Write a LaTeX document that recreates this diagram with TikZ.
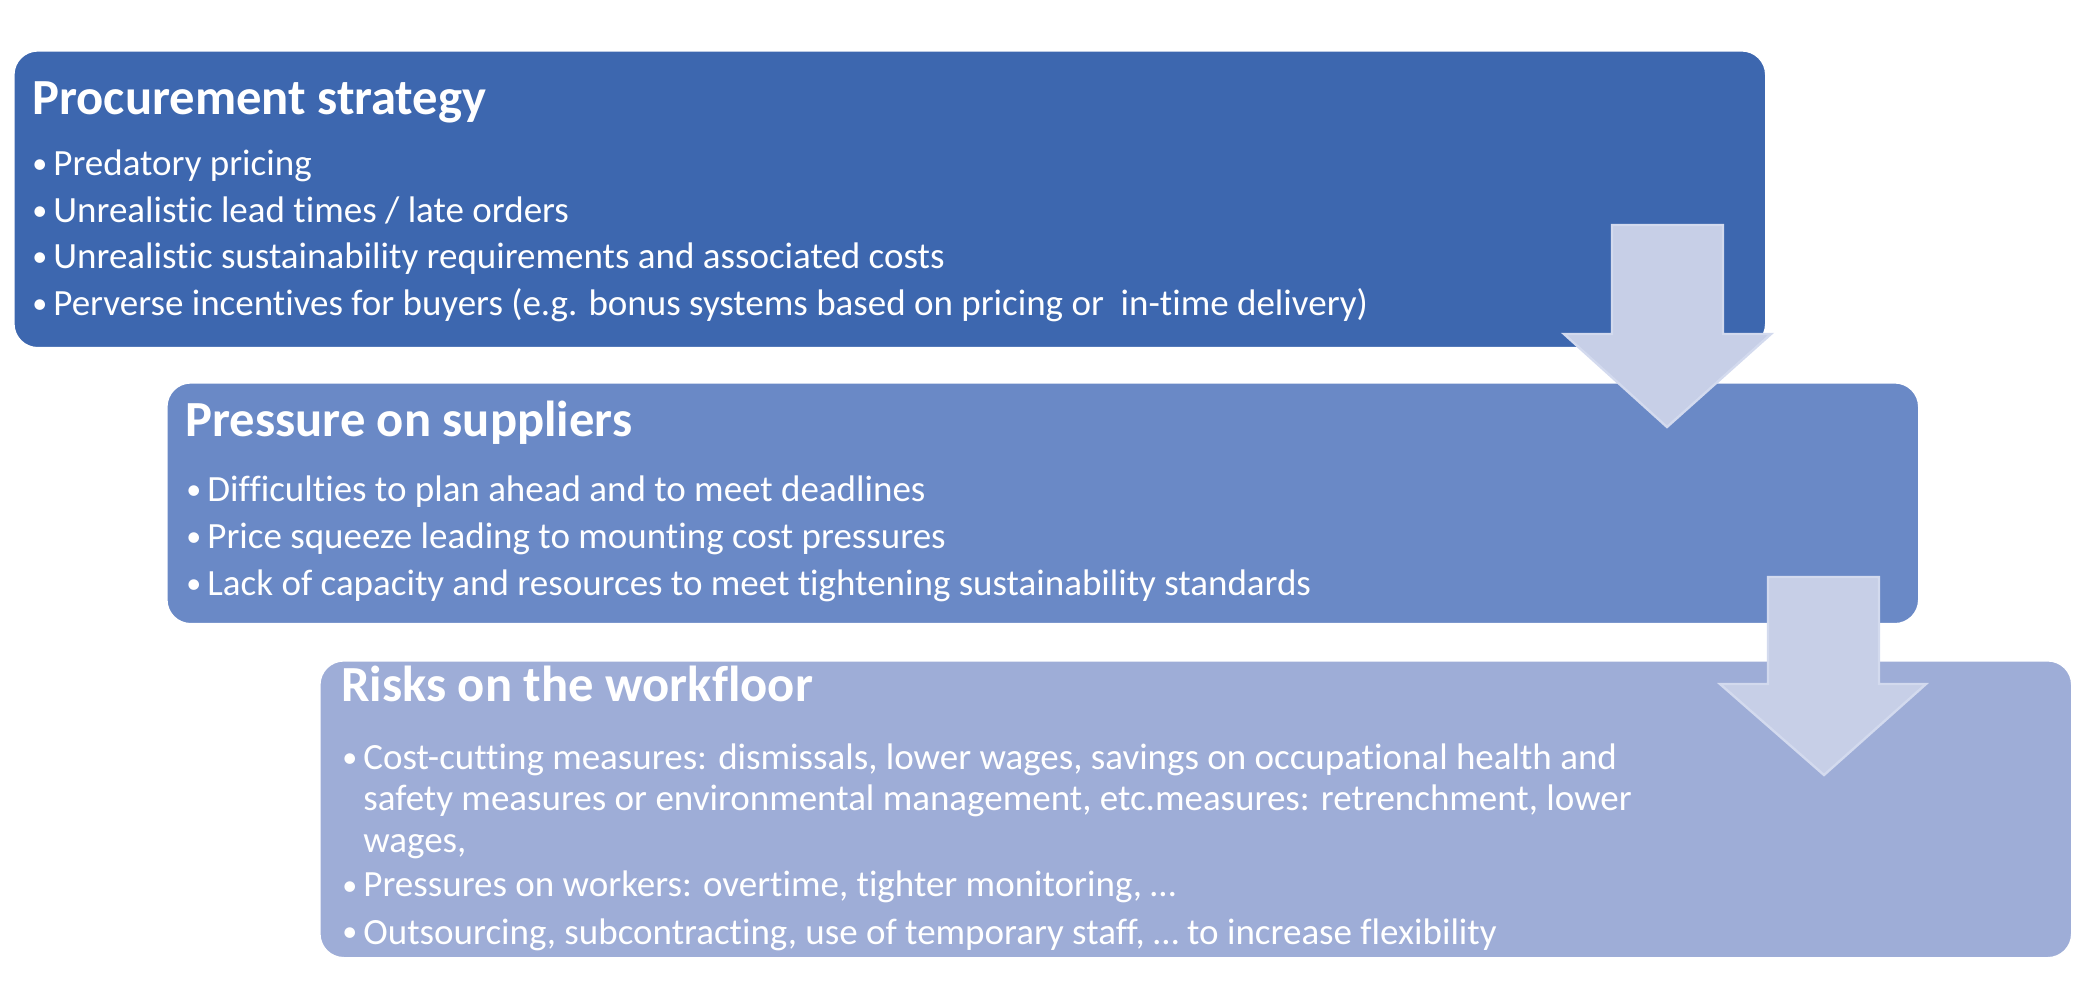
\documentclass[tikz,border=0pt]{standalone}
\usepackage{fontspec}
\setmainfont{Carlito}[Ligatures=NoCommon]
\usetikzlibrary{positioning}
\definecolor{boxone}{RGB}{61,103,175}
\definecolor{boxtwo}{RGB}{106,137,198}
\definecolor{boxthree}{RGB}{158,173,215}
\definecolor{arrowfill}{RGB}{199,207,231}
\definecolor{arrowedge}{RGB}{211,218,238}
\tikzset{
	stage/.style={rectangle, rounded corners=12pt, anchor=north west, draw=white, line width=0.8pt, inner sep=0pt, minimum width=876pt},
	head/.style={anchor=base west, inner sep=0pt, text=white, font=\fontsize{25.3}{30}\selectfont\bfseries},
	itemtext/.style={anchor=base west, inner sep=0pt, text=white, font=\fontsize{18.5}{22}\selectfont},
	itemdot/.style={anchor=base west, inner sep=0pt, text=white, font=\fontsize{15}{18}\selectfont},
	downarrow/.style={fill=arrowfill, draw=arrowedge, line width=1.2pt}
}
\begin{document}
\begin{tikzpicture}[x=0.5pt, y=-0.5pt]
	\useasboundingbox (0,0) rectangle (2078,1004);
	% the three stages
	\node[stage, fill=boxone, minimum height=148.5pt] (proc) at (13,50) {};
	\node[stage, fill=boxtwo, minimum height=120.5pt] (supp) at (166,382) {};
	\node[stage, fill=boxthree, minimum height=148.5pt] (work) at (319,660) {};
	% procurement strategy
	\node[head] (proctitle) at (32,115) {Procurement strategy};
	\foreach \txt [count=\i] in {Predatory pricing, Unrealistic lead times / late orders, Unrealistic sustainability requirements and associated costs, {Perverse incentives for buyers (e.g. bonus systems based on pricing or\ \ in-time delivery)}}{
		\node[itemdot] (procb\i) at (32,174+46.5*\i-46.5) {\textbullet};
		\node[itemtext] (proci\i) at (53,176+46.5*\i-46.5) {\txt};
	}
	% pressure on suppliers
	\node[head] (supptitle) at (185,437) {Pressure on suppliers};
	\foreach \txt [count=\i] in {Difficulties to plan ahead and to meet deadlines, Price squeeze leading to mounting cost pressures, Lack of capacity and resources to meet tightening sustainability standards}{
		\node[itemdot] (suppb\i) at (186,500+47*\i-47) {\textbullet};
		\node[itemtext] (suppi\i) at (207,502+47*\i-47) {\txt};
	}
	% risks on the workfloor
	\node[head] (worktitle) at (341,702) {Risks on the workfloor};
	\node[itemdot] (workb1) at (342,768) {\textbullet};
	\node[itemtext] (worki1) at (363,770) {Cost-cutting measures: dismissals, lower wages, savings on occupational health and};
	\node[itemtext] (worki2) at (363,811) {safety measures or environmental management, etc.measures: retrenchment, lower};
	\node[itemtext] (worki3) at (363,853) {wages,};
	\node[itemdot] (workb4) at (342,895) {\textbullet};
	\node[itemtext] (worki4) at (363,897) {Pressures on workers: overtime, tighter monitoring, \dots};
	\node[itemdot] (workb5) at (342,942) {\textbullet};
	\node[itemtext] (worki5) at (363,944) {Outsourcing, subcontracting, use of temporary staff, \dots\ to increase flexibility};
	% arrows between the stages
	\draw[downarrow] (1612,225) -- (1723,225) -- (1723,334) -- (1771,334) -- (1667,427) -- (1564,334) -- (1612,334) -- cycle;
	\draw[downarrow] (1768,577) -- (1879,577) -- (1879,684) -- (1926,684) -- (1824,775) -- (1720,684) -- (1768,684) -- cycle;
\end{tikzpicture}
\end{document}
